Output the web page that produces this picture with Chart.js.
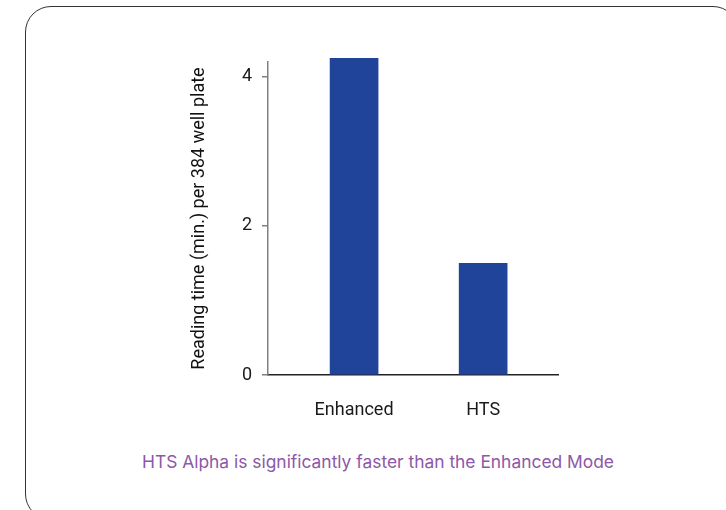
<!DOCTYPE html>
<html>
<head>
<meta charset="utf-8">
<script src="https://cdn.jsdelivr.net/npm/chart.js@4"></script>
<style>
  html, body { margin: 0; padding: 0; background: #fff; width: 726px; height: 510px; overflow: hidden; }
  .card {
    position: absolute; left: 25px; top: 6px; width: 714px; height: 514px;
    border: 1.5px solid #333; border-radius: 26px; box-sizing: border-box;
  }
  .chart-box { position: absolute; left: 0; top: 0; width: 726px; height: 430px; }
  .caption {
    position: absolute; left: 0; width: 756px; top: 451px; text-align: center;
    font-family: Inter, "Open Sans", sans-serif; font-size: 17.4px; color: #8d58a8;
  }
</style>
</head>
<body>
<div class="card"></div>
<div class="chart-box"><canvas id="chart"></canvas></div>
<div class="caption">HTS Alpha is significantly faster than the Enhanced Mode</div>
<script>
// --- Data ---
const categories = ['Enhanced', 'HTS'];
const positions = [1, 2];
const readingTimes = [4.25, 1.5];
const yTicks = [0, 2, 4];
const yTitle = 'Reading time (min.) per 384 well plate';

const barColor = '#20449a';

document.addEventListener('DOMContentLoaded', () => {
    const ctx = document.getElementById('chart');

    new Chart(ctx, {
        type: 'bar',
        data: {
            datasets: [{
                data: positions.map((x, i) => ({ x: x, y: readingTimes[i] })),
                backgroundColor: barColor,
                barThickness: 48,
                clip: false
            }]
        },
        options: {
            responsive: true,
            maintainAspectRatio: false,
            animation: false,
            layout: { padding: { left: 189, right: 168, top: 62, bottom: 15 } },
            plugins: { legend: { display: false }, tooltip: { enabled: false } },
            scales: {
                x: {
                    type: 'linear',
                    offset: false,
                    min: 0.333,
                    max: 2.58,
                    grid: { display: false, offset: false },
                    border: { color: '#222', width: 1.5 },
                    afterBuildTicks: (scale) => { scale.ticks = positions.map(v => ({ value: v })); },
                    afterFit: (scale) => { scale.height = 40; },
                    ticks: {
                        padding: 17,
                        color: '#1a1a1a',
                        font: { family: 'Roboto', size: 18 },
                        callback: (v) => categories[positions.indexOf(v)] || ''
                    }
                },
                y: {
                    min: 0,
                    max: 4.2,
                    grid: { drawOnChartArea: false, drawTicks: true, tickLength: 6, color: '#808080', lineWidth: 1.5 },
                    border: { color: '#808080', width: 1.5 },
                    afterBuildTicks: (scale) => { scale.ticks = yTicks.map(v => ({ value: v })); },
                    afterFit: (scale) => { scale.width = 79; },
                    ticks: {
                        padding: 10,
                        color: '#1a1a1a',
                        font: { family: 'Roboto', size: 18 }
                    },
                    title: {
                        display: true,
                        text: yTitle,
                        color: '#111',
                        padding: 0,
                        font: { family: 'Roboto', size: 18 }
                    }
                }
            }
        }
    });
});
</script>
</body>
</html>
